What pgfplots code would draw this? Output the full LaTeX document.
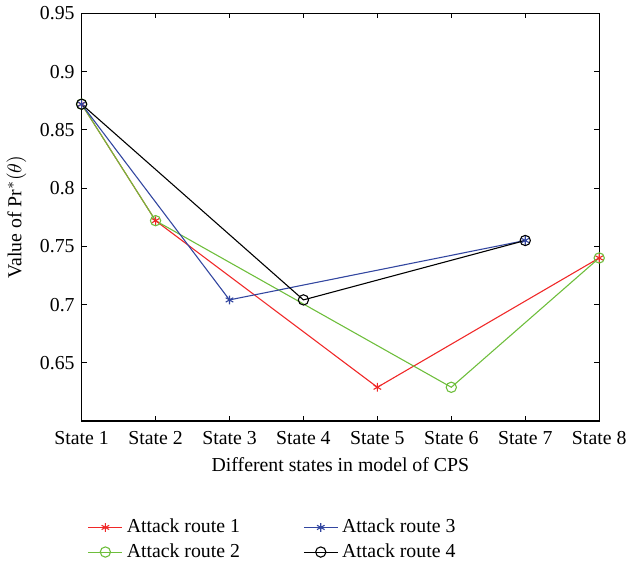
\documentclass[border=0pt]{standalone}
\usepackage{pgfplots}
\pgfplotsset{compat=1.18}
\usepackage{fontspec}
\setmainfont{Liberation Serif}
\definecolor{rred}{RGB}{240,40,40}
\definecolor{rgreen}{RGB}{110,190,60}
\definecolor{rblue}{RGB}{50,70,160}
\begin{document}
\fontsize{10}{12}\selectfont
\begin{tikzpicture}
\begin{axis}[
  scale only axis,
  width=261.5pt, height=206pt,
  xmin=1, xmax=8, ymin=0.6, ymax=0.95,
  xtick={1,...,8},
  xticklabels={State 1,State 2,State 3,State 4,State 5,State 6,State 7,State 8},
  ytick={0.65,0.7,0.75,0.8,0.85,0.9,0.95},
  yticklabels={0.65,0.7,0.75,0.8,0.85,0.9,0.95},
  tick align=inside, tick pos=both,
  major tick length=2.5pt,
  axis line style={line width=0.7pt},
  every tick/.style={black, line width=0.5pt},
  /pgf/number format/assume math mode=true,
  ticklabel style={font=\fontsize{10}{12}\selectfont},
  xticklabel style={yshift=-1.5pt},
  xlabel={Different states in model of CPS},
  ylabel={Value of Pr$^*(\theta)$},
  label style={font=\fontsize{10}{12}\selectfont},
  legend columns=2,
  transpose legend,
  legend style={draw=none, fill=none, at={(0,-0.22)}, anchor=north west,
    font=\fontsize{10}{12}\selectfont, row sep=0pt,
    /tikz/every even column/.append style={column sep=30pt}},
  legend cell align=left,
]
\addplot[rred, line width=0.55pt, mark=asterisk, mark size=2.2pt] coordinates {(1,0.872) (2,0.772) (5,0.629) (8,0.740)};
\addlegendentry{Attack route 1}
\addplot[rgreen, line width=0.55pt, mark=o, mark size=2.6pt] coordinates {(1,0.872) (2,0.772) (6,0.629) (8,0.740)};
\addlegendentry{Attack route 2}
\addplot[rblue, line width=0.55pt, mark=asterisk, mark size=2.2pt] coordinates {(1,0.872) (3,0.704) (7,0.755)};
\addlegendentry{Attack route 3}
\addplot[black, line width=0.55pt, mark=o, mark size=2.6pt] coordinates {(1,0.872) (4,0.704) (7,0.755)};
\addlegendentry{Attack route 4}
\end{axis}
\end{tikzpicture}
\end{document}
